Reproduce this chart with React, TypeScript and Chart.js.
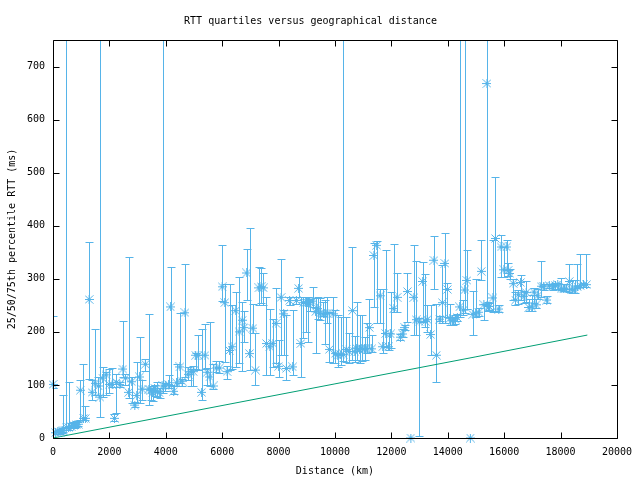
import React, { useEffect, useRef } from "react";
import { Chart, registerables } from "chart.js";

Chart.register(...registerables);

// ---- data ----
const distanceKm = [
  0, 90, 170, 250, 320, 360, 470, 550, 640, 730, 820, 900, 970, 1080, 1150, 1280, 1385, 1490, 1610, 1666,
  1760, 1880, 1995, 2100, 2180, 2250, 2370, 2480, 2570, 2680, 2790, 2900, 2970, 3070, 3160, 3275, 3400, 3470, 3530, 3600,
  3700, 3780, 3900, 3980, 4100, 4170, 4280, 4380, 4500, 4580, 4680, 4790, 4890, 4975, 5060, 5150, 5270, 5390, 5470, 5560,
  5680, 5790, 5900, 6000, 6090, 6175, 6260, 6350, 6480, 6600, 6710, 6770, 6870, 6970, 7090, 7180, 7300, 7380, 7460, 7570,
  7690, 7800, 7910, 8000, 8090, 8180, 8275, 8390, 8500, 8630, 8710, 8790, 8880, 8960, 9030, 9100, 9210, 9310, 9390, 9470,
  9590, 9640, 9720, 9800, 9930, 10010, 10100, 10210, 10300, 10400, 10500, 10620, 10700, 10770, 10870, 10950, 11050, 11130, 11220, 11300,
  11380, 11480, 11600, 11690, 11800, 11900, 11970, 12090, 12200, 12320, 12400, 12480, 12570, 12690, 12800, 12880, 12990, 13110, 13200, 13270,
  13390, 13510, 13600, 13720, 13810, 13900, 13990, 14070, 14170, 14260, 14340, 14420, 14550, 14600, 14680, 14800, 14890, 14990, 15100, 15190,
  15280, 15390, 15430, 15480, 15600, 15690, 15810, 15890, 15990, 16090, 16140, 16200, 16320, 16400, 16500, 16580, 16700, 16780, 16880, 16980,
  17060, 17130, 17190, 17310, 17400, 17510, 17600, 17730, 17820, 17900, 18020, 18110, 18200, 18310, 18400, 18500, 18600, 18700, 18810, 18920,
];
const rttMedian = [
  101, 10, 12, 11, 14, 15, 20, 20, 22, 24, 25, 26, 90, 37, 37, 261, 86, 103, 98, 77,
  113, 119, 101, 101, 37, 105, 101, 130, 113, 86, 106, 62, 80, 115, 92, 139, 92, 90, 85, 94,
  88, 85, 98, 98, 101, 247, 88, 104, 134, 107, 236, 120, 125, 125, 156, 156, 86, 156, 124, 115,
  98, 132, 132, 285, 255, 125, 165, 172, 240, 200, 222, 208, 311, 159, 207, 128, 283, 285, 283, 178,
  172, 178, 216, 135, 265, 234, 131, 259, 134, 259, 282, 178, 255, 255, 255, 255, 258, 238, 244, 235,
  234, 234, 235, 167, 234, 159, 156, 157, 157, 167, 163, 240, 163, 169, 167, 169, 168, 168, 208, 168,
  344, 363, 268, 172, 197, 172, 196, 244, 265, 190, 196, 208, 276, 0, 265, 223, 219, 295, 220, 223,
  195, 335, 156, 224, 255, 329, 280, 225, 221, 224, 227, 247, 241, 279, 297, 0, 233, 234, 237, 314,
  251, 668, 248, 248, 264, 376, 243, 360, 317, 360, 316, 310, 291, 260, 270, 293, 267, 274, 246, 247,
  275, 251, 268, 286, 285, 260, 287, 285, 287, 289, 281, 281, 281, 295, 280, 279, 285, 287, 289, 289,
];
const rttQ25 = [
  95, 7, 8, 8, 10, 12, 15, 16, 18, 19, 20, 22, 34, 33, 33, 111, 71, 81, 81, 40,
  77, 81, 85, 96, 32, 47, 97, 115, 100, 75, 66, 58, 66, 66, 72, 127, 62, 72, 70, 80,
  78, 75, 85, 88, 95, 100, 82, 98, 103, 98, 115, 110, 98, 98, 130, 128, 71, 130, 100, 98,
  92, 125, 122, 258, 144, 112, 128, 130, 134, 141, 127, 180, 260, 128, 197, 100, 250, 255, 250, 119,
  119, 134, 141, 115, 156, 156, 109, 250, 119, 252, 266, 115, 188, 200, 180, 240, 247, 160, 225, 222,
  230, 178, 216, 144, 142, 141, 134, 137, 145, 144, 141, 147, 144, 147, 141, 145, 147, 160, 169, 162,
  247, 216, 216, 160, 172, 165, 169, 238, 238, 185, 190, 203, 219, 0, 194, 195, 3, 219, 210, 200,
  156, 280, 105, 220, 216, 216, 228, 213, 212, 215, 220, 228, 232, 235, 244, 0, 194, 228, 230, 297,
  222, 250, 240, 242, 238, 240, 238, 304, 304, 316, 305, 300, 260, 250, 253, 260, 255, 257, 240, 240,
  254, 245, 262, 266, 278, 255, 282, 279, 280, 280, 278, 277, 277, 275, 274, 274, 282, 284, 284, 284,
];
const rttQ75 = [
  230, 14, 16, 17, 18, 81, 900, 105, 28, 30, 32, 30, 109, 140, 60, 370, 109, 205, 115, 900,
  134, 125, 130, 131, 45, 120, 106, 221, 120, 342, 115, 67, 143, 190, 110, 148, 233, 95, 98, 100,
  105, 95, 900, 104, 118, 322, 98, 140, 236, 112, 327, 133, 130, 135, 160, 195, 205, 215, 132, 218,
  140, 145, 145, 363, 290, 135, 290, 250, 275, 304, 257, 240, 356, 395, 253, 197, 322, 320, 310, 266,
  244, 225, 282, 184, 338, 241, 231, 265, 241, 265, 304, 266, 266, 266, 266, 262, 285, 263, 265, 263,
  256, 260, 266, 238, 265, 241, 231, 228, 900, 228, 197, 360, 193, 256, 231, 232, 191, 216, 261, 194,
  368, 371, 280, 280, 355, 197, 275, 365, 310, 196, 205, 212, 311, 0, 363, 334, 226, 332, 309, 250,
  250, 380, 252, 230, 326, 387, 293, 252, 228, 232, 234, 900, 260, 900, 354, 0, 277, 300, 245, 374,
  253, 900, 256, 255, 374, 492, 250, 382, 360, 374, 330, 318, 300, 275, 278, 308, 277, 295, 262, 270,
  282, 262, 280, 333, 290, 268, 291, 291, 293, 293, 301, 290, 290, 327, 298, 298, 327, 346, 293, 346,
];
const boundDistanceKm = [0, 5000, 10000, 15000, 18950];
const boundRtt = [0, 51, 102, 153, 194];
const xTickValues = [0, 2000, 4000, 6000, 8000, 10000, 12000, 14000, 16000, 18000, 20000];
const yTickValues = [0, 100, 200, 300, 400, 500, 600, 700];

const FONT = "'DejaVu Sans Mono', monospace";
const BLUE = "#56b4e9";
const GREEN = "#009e73";

function makeAsterisk(): HTMLCanvasElement {
  const c = document.createElement("canvas");
  c.width = 9;
  c.height = 9;
  const g = c.getContext("2d")!;
  g.strokeStyle = BLUE;
  g.lineWidth = 1;
  g.beginPath();
  g.moveTo(0, 4.5);
  g.lineTo(9, 4.5);
  g.moveTo(4.5, 0);
  g.lineTo(4.5, 9);
  g.moveTo(0.5, 0.5);
  g.lineTo(8.5, 8.5);
  g.moveTo(8.5, 0.5);
  g.lineTo(0.5, 8.5);
  g.stroke();
  return c;
}

const errorBarPlugin = {
  id: "errorBars",
  beforeDatasetsDraw(chart: any) {
    const { ctx, chartArea, scales } = chart;
    const xs = scales.x;
    const ys = scales.y;
    ctx.save();
    ctx.beginPath();
    ctx.rect(chartArea.left, chartArea.top, chartArea.right - chartArea.left, chartArea.bottom - chartArea.top);
    ctx.clip();
    ctx.strokeStyle = BLUE;
    ctx.lineWidth = 1;
    ctx.beginPath();
    for (let i = 0; i < distanceKm.length; i++) {
      if (rttQ25[i] === rttQ75[i]) continue;
      const x = Math.round(xs.getPixelForValue(distanceKm[i])) + 0.5;
      const yl = Math.round(ys.getPixelForValue(rttQ25[i])) + 0.5;
      const yh = Math.round(ys.getPixelForValue(rttQ75[i])) + 0.5;
      ctx.moveTo(x, yl);
      ctx.lineTo(x, yh);
      ctx.moveTo(x - 4, yl);
      ctx.lineTo(x + 4, yl);
      ctx.moveTo(x - 4, yh);
      ctx.lineTo(x + 4, yh);
    }
    ctx.stroke();
    ctx.restore();
  },
};

const framePlugin = {
  id: "gnuplotFrame",
  afterDraw(chart: any) {
    const { ctx, chartArea, scales } = chart;
    const l = Math.round(chartArea.left) + 0.5;
    const r = Math.round(chartArea.right) + 0.5;
    const t = Math.round(chartArea.top) + 0.5;
    const b = Math.round(chartArea.bottom) + 0.5;
    const len = 6;
    ctx.save();
    ctx.strokeStyle = "#000";
    ctx.lineWidth = 1;
    ctx.beginPath();
    ctx.rect(l, t, r - l, b - t);
    for (const v of xTickValues) {
      const x = Math.round(scales.x.getPixelForValue(v)) + 0.5;
      ctx.moveTo(x, b);
      ctx.lineTo(x, b - len);
      ctx.moveTo(x, t);
      ctx.lineTo(x, t + len);
    }
    for (const v of yTickValues) {
      const y = Math.round(scales.y.getPixelForValue(v)) + 0.5;
      ctx.moveTo(l, y);
      ctx.lineTo(l + len, y);
      ctx.moveTo(r, y);
      ctx.lineTo(r - len, y);
    }
    ctx.stroke();
    ctx.restore();
  },
};

export default function App() {
  const ref = useRef<HTMLCanvasElement>(null);

  useEffect(() => {
    if (!ref.current) return;
    const asterisk = makeAsterisk();
    const points = distanceKm.map((d, i) => ({ x: d, y: rttMedian[i] }));
    const bound = boundDistanceKm.map((d, i) => ({ x: d, y: boundRtt[i] }));
    const tickFont = { family: FONT, size: 10, weight: "normal" as const };

    const chart = new Chart(ref.current, {
      type: "scatter",
      data: {
        datasets: [
          {
            label: "quartiles",
            data: points,
            pointStyle: asterisk as any,
            pointRadius: 4,
            borderColor: BLUE,
            backgroundColor: BLUE,
            showLine: false,
            clip: false as any,
          },
          {
            label: "bound",
            type: "line" as any,
            data: bound,
            borderColor: GREEN,
            borderWidth: 1,
            pointRadius: 0,
            fill: false,
            tension: 0,
          },
        ],
      },
      options: {
        animation: false,
        responsive: false,
        layout: { padding: { left: 0, right: 19, top: 0, bottom: 0 } },
        plugins: {
          legend: { display: false },
          tooltip: { enabled: false },
          title: {
            display: true,
            text: "RTT quartiles versus geographical distance",
            color: "#000",
            font: { family: FONT, size: 10, weight: "normal" },
            padding: { top: 15, bottom: 13 },
          },
        },
        scales: {
          x: {
            type: "linear",
            min: 0,
            max: 20000,
            afterBuildTicks: (scale: any) => {
              scale.ticks = xTickValues.map((v) => ({ value: v }));
            },
            afterFit: (scale: any) => {
              scale.height = 42;
            },
            ticks: {
              color: "#000",
              font: tickFont,
              padding: 8,
              maxRotation: 0,
              autoSkip: false,
              callback: (v: any) => String(v),
            },
            grid: { display: false, drawTicks: false },
            border: { display: false },
            title: {
              display: true,
              text: "Distance (km)",
              color: "#000",
              font: tickFont,
              padding: { top: 0, bottom: 3 },
            },
          },
          y: {
            type: "linear",
            min: 0,
            max: 750,
            afterBuildTicks: (scale: any) => {
              scale.ticks = yTickValues.map((v) => ({ value: v }));
            },
            afterFit: (scale: any) => {
              scale.width = 53;
            },
            ticks: {
              color: "#000",
              font: tickFont,
              padding: 8,
              autoSkip: false,
              callback: (v: any) => String(v),
            },
            grid: { display: false, drawTicks: false },
            border: { display: false },
            title: {
              display: true,
              text: "25/50/75th percentile RTT (ms)",
              color: "#000",
              font: tickFont,
              padding: { top: 6, bottom: 0 },
            },
          },
        },
      },
      plugins: [errorBarPlugin, framePlugin],
    });
    return () => chart.destroy();
  }, []);

  return (
    <div style={{ position: "absolute", left: 0, top: 0, width: 640, height: 480, background: "#fff" }}>
      <canvas ref={ref} width={640} height={480} />
    </div>
  );
}
